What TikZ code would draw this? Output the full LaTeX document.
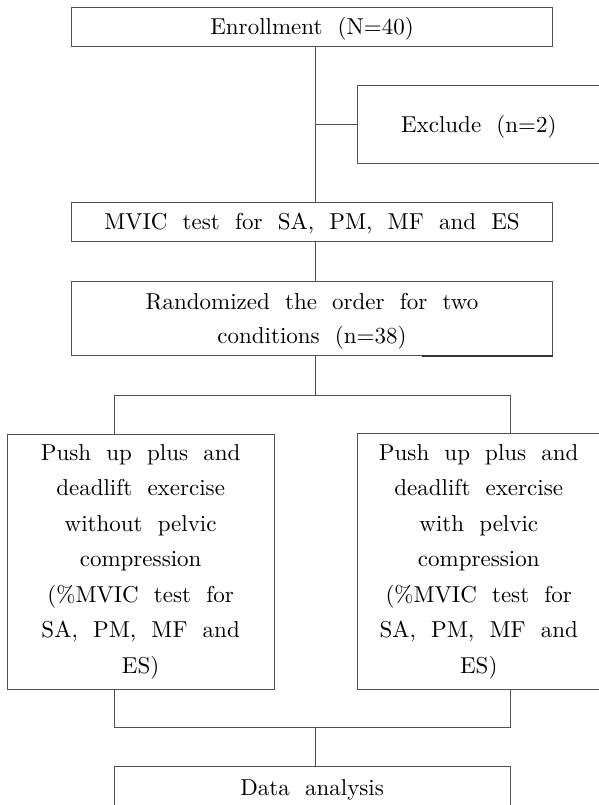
\documentclass[tikz,border=0pt]{standalone}
\usepackage{fontspec}
\setmainfont{lmroman10-regular.otf}[BoldFont=lmroman10-bold.otf, ItalicFont=lmroman10-italic.otf]
\definecolor{linec}{HTML}{505050}
\newcommand\flowtxt{\fontsize{23}{35.5}\selectfont\frenchspacing\spaceskip=0.66em\relax}
\tikzset{
  ln/.style={draw=linec, line width=0.8pt},
  txtnode/.style={inner sep=0pt, align=center, font=\flowtxt, text=black},
  boxnode/.style={txtnode, ln},
  oneline/.style={text height=19.7pt, text depth=4pt},
}
\begin{document}
\begin{tikzpicture}[x=1pt, y=-1pt]
\useasboundingbox (0,0) rectangle (599,805);
\coordinate (cx) at (315.7,0);
\coordinate (lx) at (114.3,0);
\coordinate (rx) at (510,0);
\coordinate (bot) at (0,805);
\coordinate (sp) at (315.7,395);
\coordinate (mg) at (315.7,727.7);

\node[boxnode, oneline, minimum width=480.6, minimum height=38.6] (enr) at (312,27) {Enrollment (N=40)};
\node[txtnode, oneline, minimum width=241.5, minimum height=77.3] (exc) at (478.75,124.7) {Exclude (n=2)};
\draw[ln] (exc.north east) -- (exc.north west) -- (exc.south west) -- (exc.south east);
\node[boxnode, oneline, minimum width=480.6, minimum height=38.6] (mvic) at (312,222) {MVIC test for SA, PM, MF and ES};
\node[boxnode, minimum width=480.6, minimum height=74.7] (rnd) at (312,318.35) {\rule{0pt}{21.3pt}Randomized the order for two\\[-1.5pt]conditions (n=38)};
\draw[draw=black!80, line width=1.4pt] ([xshift=-130.3pt]rnd.south east) -- (rnd.south east);

\node[boxnode, minimum width=266.7, minimum height=255] (left) at (140.65,561.5) {Push up plus and\\deadlift exercise\\without pelvic\\compression\\(\%MVIC test for\\SA, PM, MF and\\ES)};
\node[txtnode, minimum width=241.5, minimum height=255] (right) at (478.75,561.5) {Push up plus and\\deadlift exercise\\with pelvic\\compression\\(\%MVIC test for\\SA, PM, MF and\\ES)};
\draw[ln] (right.north east) -- (right.north west) -- (right.south west) -- (right.south east);

\node[txtnode, oneline, minimum width=395.7, minimum height=41.4] (data) at (312.15,787.5) {Data analysis};
\draw[ln] (data.north west |- bot) -- (data.north west) -- (data.north east) -- (data.north east |- bot);

\draw[ln] (enr.south -| cx) -- (mvic.north -| cx);
\draw[ln] (exc.west) -- (exc.west -| cx);
\draw[ln] (mvic.south -| cx) -- (rnd.north -| cx);
\draw[ln] (rnd.south -| cx) -- (sp);
\draw[ln] (left.north -| lx) -- (sp -| lx) -- (sp -| rx) -- (right.north -| rx);
\draw[ln] (left.south -| lx) -- (mg -| lx) -- (mg -| rx) -- (right.south -| rx);
\draw[ln] (mg) -- (data.north -| cx);
\end{tikzpicture}
\end{document}
